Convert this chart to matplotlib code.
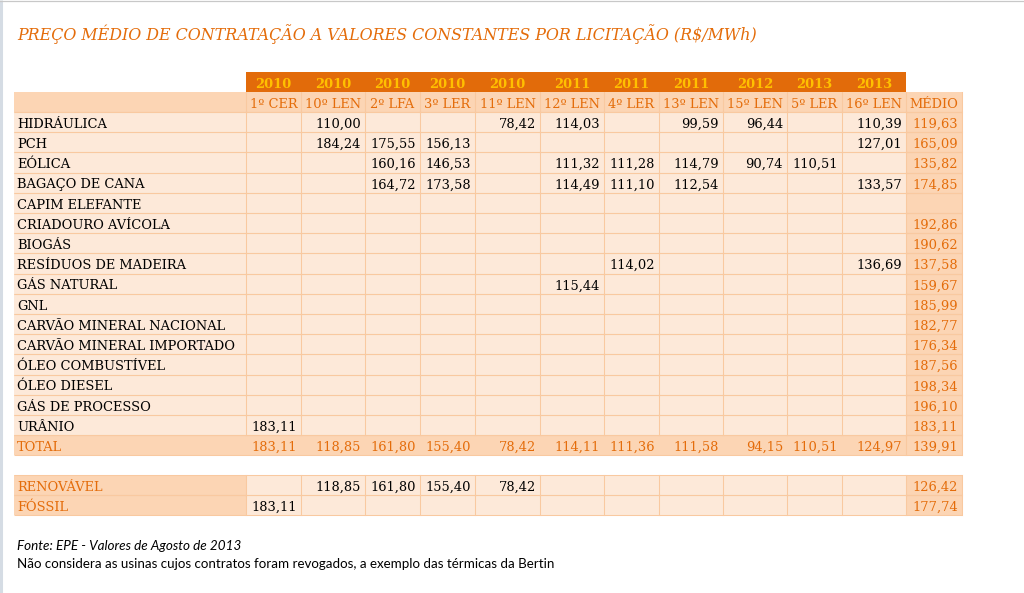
import matplotlib
matplotlib.use("Agg")
import matplotlib.pyplot as plt
from matplotlib.patches import Rectangle

# ---------------- data ----------------
title = "PREÇO MÉDIO DE CONTRATAÇÃO A VALORES CONSTANTES POR LICITAÇÃO (R$/MWh)"
years = ["2010", "2010", "2010", "2010", "2010", "2011", "2011", "2011", "2012", "2013", "2013"]
auctions = ["1º CER", "10º LEN", "2º LFA", "3º LER", "11º LEN", "12º LEN", "4º LER",
            "13º LEN", "15º LEN", "5º LER", "16º LEN"]
medio_label = "MÉDIO"

sources = ["HIDRÁULICA", "PCH", "EÓLICA", "BAGAÇO DE CANA", "CAPIM ELEFANTE",
           "CRIADOURO AVÍCOLA", "BIOGÁS", "RESÍDUOS DE MADEIRA", "GÁS NATURAL", "GNL",
           "CARVÃO MINERAL NACIONAL", "CARVÃO MINERAL IMPORTADO", "ÓLEO COMBUSTÍVEL",
           "ÓLEO DIESEL", "GÁS DE PROCESSO", "URÂNIO"]
N = None
hidraulica = [N, 110.00, N, N, 78.42, 114.03, N, 99.59, 96.44, N, 110.39]
pch = [N, 184.24, 175.55, 156.13, N, N, N, N, N, N, 127.01]
eolica = [N, N, 160.16, 146.53, N, 111.32, 111.28, 114.79, 90.74, 110.51, N]
bagaco = [N, N, 164.72, 173.58, N, 114.49, 111.10, 112.54, N, N, 133.57]
capim = [N] * 11
criadouro = [N] * 11
biogas = [N] * 11
residuos = [N, N, N, N, N, N, 114.02, N, N, N, 136.69]
gas_natural = [N, N, N, N, N, 115.44, N, N, N, N, N]
gnl = [N] * 11
carvao_nac = [N] * 11
carvao_imp = [N] * 11
oleo_comb = [N] * 11
oleo_diesel = [N] * 11
gas_processo = [N] * 11
uranio = [183.11, N, N, N, N, N, N, N, N, N, N]
source_values = [hidraulica, pch, eolica, bagaco, capim, criadouro, biogas, residuos,
                 gas_natural, gnl, carvao_nac, carvao_imp, oleo_comb, oleo_diesel,
                 gas_processo, uranio]
source_medio = [119.63, 165.09, 135.82, 174.85, N, 192.86, 190.62, 137.58, 159.67,
                185.99, 182.77, 176.34, 187.56, 198.34, 196.10, 183.11]

total_label = "TOTAL"
total = [183.11, 118.85, 161.80, 155.40, 78.42, 114.11, 111.36, 111.58, 94.15, 110.51, 124.97]
total_medio = 139.91

group_labels = ["RENOVÁVEL", "FÓSSIL"]
renovavel = [N, 118.85, 161.80, 155.40, 78.42, N, N, N, N, N, N]
fossil = [183.11, N, N, N, N, N, N, N, N, N, N]
group_values = [renovavel, fossil]
group_medio = [126.42, 177.74]

footer1 = "Fonte: EPE - Valores de Agosto de 2013"
footer2 = "Não considera as usinas cujos contratos foram revogados, a exemplo das térmicas da Bertin"

# ---------------- style / layout ----------------
ORANGE = "#E26B0A"
YELLOW = "#FFC000"
TXT_OR = "#E46C0A"
LIGHT = "#FDE9D9"
MID = "#FCD5B4"
GRID = "#F9C9A0"
SERIF = "DejaVu Serif"
FS = 9.4

col_edges = [246, 301, 365, 420, 475, 540, 604, 659, 723, 787, 842, 906, 962]
label_x0 = 14
yr_top, yr_h = 72, 20
hdr_top, hdr_h = 92, 20
body_top, row_h = 112, 20.2
grp_top = 475

fig = plt.figure(figsize=(10.24, 5.93), dpi=100)
ax = fig.add_axes([0, 0, 1, 1])
ax.set_xlim(0, 1024)
ax.set_ylim(593, 0)
ax.axis("off")

# frame
ax.plot([1, 1], [0, 593], color="#D5DCE4", lw=2.2, solid_capstyle="butt")
ax.plot([0, 1024], [0.5, 0.5], color="#C8C8C8", lw=0.9)


def fmt(v):
    return f"{v:.2f}".replace(".", ",")


def rect(x0, y0, x1, y1, fc, ec="none", lw=0.75, z=1):
    ax.add_patch(Rectangle((x0, y0), x1 - x0, y1 - y0, facecolor=fc, edgecolor=ec,
                           linewidth=lw, zorder=z))


def hline(x0, x1, y, color=GRID):
    ax.plot([x0, x1], [y, y], color=color, lw=0.75, zorder=2, solid_capstyle="butt")


# title
t = ax.text(17, 39.5, title, fontsize=12.5, family=SERIF, style="italic",
            color=TXT_OR, ha="left", va="baseline")

# year header (orange band)
rect(col_edges[0], yr_top, col_edges[-2], yr_top + yr_h, ORANGE)
for i, y in enumerate(years):
    cx = (col_edges[i] + col_edges[i + 1]) / 2
    ax.text(cx, yr_top + 15.5, y, fontsize=FS, family=SERIF, color=YELLOW,
            ha="center", va="baseline", fontweight="bold", zorder=3)

# auction header
rect(label_x0, hdr_top, col_edges[-1], hdr_top + hdr_h, MID)
hline(label_x0, col_edges[-1], hdr_top + hdr_h)
for i in range(len(col_edges)):
    ax.plot([col_edges[i]] * 2, [hdr_top, hdr_top + hdr_h], color=GRID, lw=0.75, zorder=2)
for i, a in enumerate(auctions + [medio_label]):
    cx = (col_edges[i] + col_edges[i + 1]) / 2
    ax.text(cx, hdr_top + 16, a, fontsize=FS, family=SERIF, color=TXT_OR,
            ha="center", va="baseline", zorder=3)


def data_row(top, label, vals, med, label_bg, label_color, val_color, grid_cols=True,
             data_bg=LIGHT):
    bot = top + row_h
    rect(label_x0, top, col_edges[0], bot, label_bg)
    for i in range(len(vals)):
        rect(col_edges[i], top, col_edges[i + 1], bot, data_bg)
    rect(col_edges[-2], top, col_edges[-1], bot, MID)
    hline(label_x0, col_edges[-1], top)
    hline(label_x0, col_edges[-1], bot)
    if grid_cols:
        for x in col_edges:
            ax.plot([x, x], [top, bot], color=GRID, lw=0.75, zorder=2)
    else:
        for x in col_edges[-2:]:
            ax.plot([x, x], [top, bot], color=GRID, lw=0.75, zorder=2)
    ax.text(17, top + 15.8, label, fontsize=FS, family=SERIF, color=label_color,
            ha="left", va="baseline", zorder=3)
    for i, v in enumerate(vals):
        if v is not None:
            ax.text(col_edges[i + 1] - 4, top + 15.8, fmt(v), fontsize=FS, family=SERIF,
                    color=val_color, ha="right", va="baseline", zorder=3)
    if med is not None:
        ax.text(col_edges[-1] - 4, top + 15.8, fmt(med), fontsize=FS, family=SERIF,
                color=TXT_OR, ha="right", va="baseline", zorder=3)


for r, (lab, vals, med) in enumerate(zip(sources, source_values, source_medio)):
    data_row(body_top + r * row_h, lab, vals, med, LIGHT, "black", "black")

data_row(body_top + len(sources) * row_h, total_label, total, total_medio, MID, TXT_OR,
         TXT_OR, grid_cols=False, data_bg=MID)

for r, (lab, vals, med) in enumerate(zip(group_labels, group_values, group_medio)):
    data_row(grp_top + r * row_h, lab, vals, med, MID, TXT_OR, "black")

# footer
f1 = ax.text(17, 549.5, footer1, fontsize=8.5, family="Lato", style="italic",
             color="black", ha="left", va="baseline")
f2 = ax.text(17, 568.5, footer2, fontsize=8.5, family="Lato",
             color="black", ha="left", va="baseline")

# fit widths of free text to the reference extents
fig.canvas.draw()
rend = fig.canvas.get_renderer()
for txt, w in [(t, 740), (f1, 224), (f2, 538)]:
    bb = txt.get_window_extent(rend)
    txt.set_fontsize(txt.get_fontsize() * w / bb.width)

fig.savefig("out.png", dpi=100, facecolor="white")
